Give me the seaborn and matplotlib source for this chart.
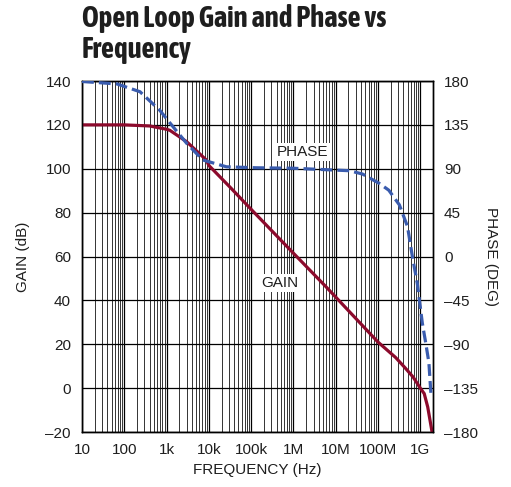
import matplotlib
matplotlib.use("Agg")
import matplotlib.pyplot as plt
import matplotlib.ticker as mticker
from matplotlib import font_manager
import seaborn as sns
import numpy as np

# ---- data ----
freq_gain = [10, 100, 400, 1e3, 1.2e3, 3e3, 8.7e3, 1e4, 3.1e4, 1e5, 1e6, 5.9e6, 1e7, 1e8,
             2.6e8, 4.4e8, 6.8e8, 1e9, 1.24e9, 1.5e9, 1.9e9]
gain_db = [120, 120, 119.5, 118, 117.5, 112.3, 104, 101.5, 91.8, 81.5, 61.5, 46.2, 41.5, 21,
           14, 9.2, 5, 0, -2.5, -8.6, -20]

freq_phase = [10, 67, 235, 690, 1.2e3, 3e3, 7.2e3, 2.6e4, 1.3e5, 1e6, 2.1e7, 4.3e7, 1.07e8,
              1.8e8, 3.2e8, 5e8, 6.5e8, 8.5e8, 1.12e9, 1.35e9, 1.6e9, 1.78e9]
phase_deg = [179.5, 177, 169, 150, 137, 116, 99, 92, 91, 90.5, 88, 84.6, 75,
             68, 53, 30.6, 0, -27.5, -68.5, -89, -109, -140]

x_ticks = [10, 100, 1e3, 1e4, 1e5, 1e6, 1e7, 1e8, 1e9]
x_labels = ["10", "100", "1k", "10k", "100k", "1M", "10M", "100M", "1G"]
gain_ticks = [-20, 0, 20, 40, 60, 80, 100, 120, 140]
gain_labels = ["–20", "0", "20", "40", "60", "80", "100", "120", "140"]
phase_ticks = [-180, -135, -90, -45, 0, 45, 90, 135, 180]
phase_labels = ["–180", "–135", "–90", "–45", "0", "45", "90", "135", "180"]

title = "Open Loop Gain and Phase vs\nFrequency"

sns.set_style("white")
plt.rcParams['font.family'] = ['Liberation Sans', 'DejaVu Sans']

# condensed bold face for the title if one is installed
cands = [f for f in font_manager.fontManager.ttflist
         if ("Narrow" in f.name or "Condensed" in f.name)]
def _w(f):
    w = f.weight
    if isinstance(w, str):
        w = {"bold": 700, "normal": 400, "regular": 400}.get(w.lower(), 400)
    return w
bold_c = [f for f in cands if _w(f) >= 600 and f.style == "normal"]
bold_c.sort(key=lambda f: (0 if "Liberation" in f.name else 1, abs(_w(f) - 700)))
if bold_c:
    size = 18.5 if "Liberation" in bold_c[0].name else 20.6
    title_fp = font_manager.FontProperties(fname=bold_c[0].fname, size=size)
else:
    title_fp = font_manager.FontProperties(family="Liberation Sans", weight="bold", size=15.2)

fig = plt.figure(figsize=(5.11, 4.87), dpi=100)
ax = fig.add_axes([82/511, 1 - 432/487, (433 - 82)/511, (432 - 81)/487])
ax.set_xscale("log")

gain_color = "#8c0a2c"
phase_color = "#3a5cae"

sns.lineplot(x=freq_gain, y=gain_db, ax=ax, color=gain_color, linewidth=2.3, zorder=5)

ax2 = ax.twinx()
sns.lineplot(x=freq_phase, y=phase_deg, ax=ax2, color=phase_color, linewidth=2.3,
             linestyle="--", dashes=(4, 2.2), zorder=5)

ax.set_xlim(10, 2e9)
ax.set_ylim(-20, 140)
ax.set_xticks(x_ticks)
ax.set_xticklabels(x_labels)
ax.xaxis.set_minor_locator(mticker.LogLocator(base=10, subs=np.arange(2, 10), numticks=100))
ax.xaxis.set_minor_formatter(mticker.NullFormatter())
ax.set_yticks(gain_ticks)
ax.set_yticklabels(gain_labels)
ax.grid(True, which="major", axis="both", color="black", linewidth=0.9)
ax.grid(True, which="minor", axis="x", color="#333333", linewidth=0.7)
ax.tick_params(axis="both", which="both", length=0, labelsize=11, colors="#1e1e1e")
ax.tick_params(axis="x", pad=8)
ax.tick_params(axis="y", pad=8)
for s in ax.spines.values():
    s.set_color("black")
    s.set_linewidth(1.0)
ax.set_xlabel("FREQUENCY (Hz)", fontsize=11, color="#1e1e1e", labelpad=4)
ax.set_ylabel("GAIN (dB)", fontsize=11, color="#1e1e1e", labelpad=11)

ax2.set_ylim(-180, 180)
ax2.set_yticks(phase_ticks)
ax2.set_yticklabels(phase_labels)
ax2.tick_params(axis="y", length=0, labelsize=11, pad=8, colors="#1e1e1e")
ax2.tick_params(axis="x", which="both", length=0)
ax2.set_ylabel("PHASE (DEG)", fontsize=11, color="#1e1e1e", rotation=270, labelpad=14)
for s in ax2.spines.values():
    s.set_color("black")
    s.set_linewidth(1.0)

ax2.text(1.6e6, 107, "PHASE", fontsize=11, color="#1e1e1e", ha="center", va="center",
         bbox=dict(facecolor="white", edgecolor="none", pad=1.5), zorder=6)
ax.text(4.7e5, 48, "GAIN", fontsize=11, color="#1e1e1e", ha="center", va="center",
        bbox=dict(facecolor="white", edgecolor="none", pad=1.5), zorder=6)

fig.text(82/511, 1 - 4/487, title, fontproperties=title_fp, color="#1e1e1e",
         ha="left", va="top", linespacing=1.08)

fig.savefig("out.png", dpi=100)
